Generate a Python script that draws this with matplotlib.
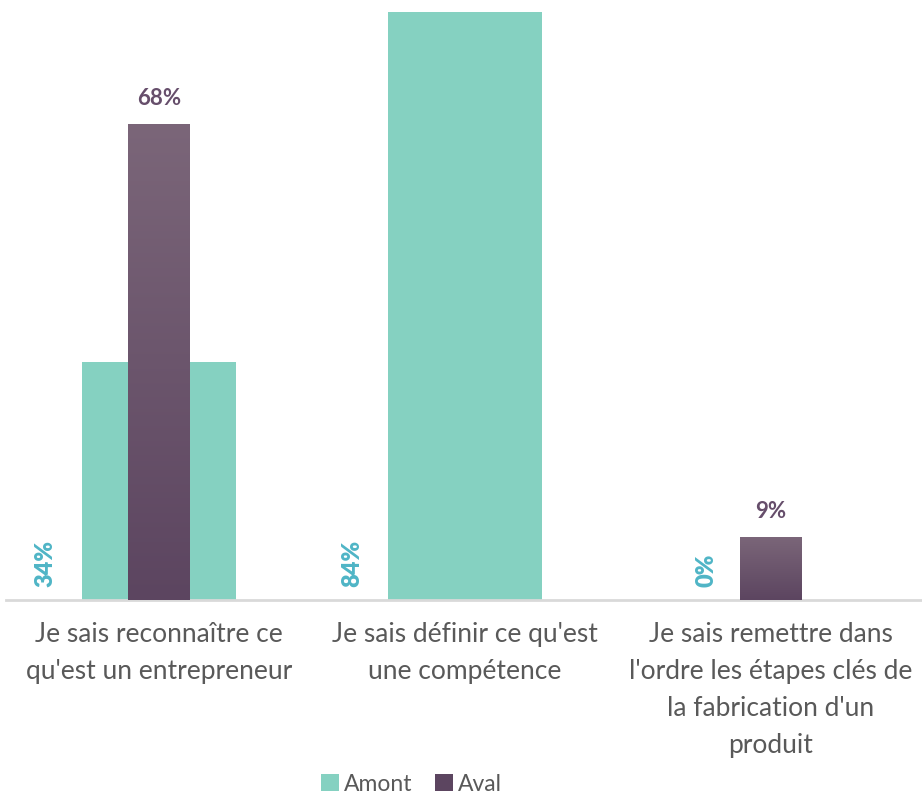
import matplotlib

matplotlib.use("Agg")
import matplotlib.pyplot as plt
import numpy as np
from matplotlib.colors import LinearSegmentedColormap
from matplotlib.patches import Patch

CATEGORIES = [
    "Je sais reconnaître ce\nqu'est un entrepreneur",
    "Je sais définir ce qu'est\nune compétence",
    "Je sais remettre dans\nl'ordre les étapes clés de\nla fabrication d'un\nproduit",
]
AMONT = [34, 84, 0]
AVAL = [68, 0, 9]

TEAL = "#85d1c1"
TEAL_LABEL = "#4fb5c6"
PURPLE_TOP = "#7b6679"
PURPLE_BOTTOM = "#5c4560"
PURPLE_LABEL = "#664e6b"
GREY_TEXT = "#595959"

plt.rcParams["font.family"] = ["Lato", "DejaVu Sans"]


def gradient_bar(ax, bar, cmap):
    # Fill one bar with a vertical gradient clipped to its rectangle.
    x, y = bar.get_x(), bar.get_y()
    w, h = bar.get_width(), bar.get_height()
    if h <= 0:
        return
    grad = np.linspace(0, 1, 256).reshape(-1, 1)
    img = ax.imshow(
        grad,
        extent=(x, x + w, y, y + h),
        origin="lower",
        cmap=cmap,
        aspect="auto",
        zorder=bar.get_zorder() + 0.1,
    )
    img.set_clip_path(bar)


def main() -> None:
    fig = plt.figure(figsize=(9.22, 7.96), dpi=100)
    ax = fig.add_axes([0.0065, 0.2462, 0.9957, 0.7538])

    x = np.arange(len(CATEGORIES))
    ax.bar(x, AMONT, width=0.506, color=TEAL, zorder=2)
    aval_bars = ax.bar(x, AVAL, width=0.2, color=PURPLE_BOTTOM, zorder=3)

    cmap = LinearSegmentedColormap.from_list("aval", [PURPLE_BOTTOM, PURPLE_TOP])
    for bar in aval_bars:
        gradient_bar(ax, bar, cmap)

    # Amont labels sit rotated at the foot of the bars, on their left side
    for xi, value in zip(x, AMONT):
        offset = -0.37 if value > 0 else -0.21
        ax.text(
            xi + offset, 1.8, f"{value}%",
            rotation=90, ha="center", va="bottom",
            color=TEAL_LABEL, fontsize=17, fontweight="heavy", zorder=5,
        )

    for xi, value in zip(x, AVAL):
        if value == 0:
            continue
        ax.annotate(
            f"{value}%", (xi, value),
            xytext=(0, 11), textcoords="offset points",
            ha="center", va="bottom",
            color=PURPLE_LABEL, fontsize=16, fontweight="bold", zorder=5,
        )

    ax.set_xlim(-0.5, 2.5)
    ax.set_ylim(0, 85.7)
    ax.set_yticks([])
    ax.set_xticks(x)
    ax.set_xticklabels(CATEGORIES, fontsize=19, color=GREY_TEXT, linespacing=1.6)
    ax.tick_params(axis="x", length=0, pad=16)
    for side in ("top", "left", "right"):
        ax.spines[side].set_visible(False)
    ax.spines["bottom"].set_color("#d9d9d9")
    ax.spines["bottom"].set_linewidth(2)

    handles = [
        Patch(facecolor=TEAL, label="Amont"),
        Patch(facecolor=PURPLE_BOTTOM, label="Aval"),
    ]
    fig.legend(
        handles=handles, loc="center", bbox_to_anchor=(0.446, 0.015),
        ncol=2, frameon=False, fontsize=16.5, labelcolor=GREY_TEXT,
        handlelength=0.8, handleheight=0.8, handletextpad=0.2, columnspacing=1.0,
    )

    fig.savefig("out.png", dpi=100)


if __name__ == "__main__":
    main()
